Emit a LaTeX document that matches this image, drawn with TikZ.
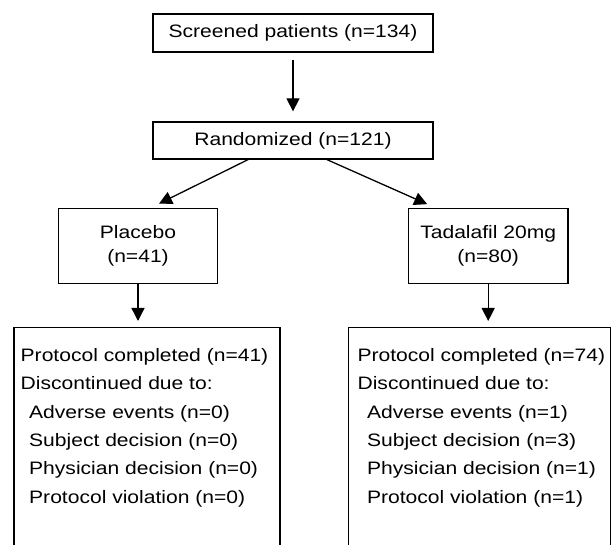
\documentclass[tikz,border=0pt]{standalone}
\usepackage{fontspec}
\setmainfont{Liberation Sans}[FakeStretch=1.17]
\usetikzlibrary{positioning,arrows.meta}

\begin{document}
\begin{tikzpicture}[x=1pt,y=-1pt,
  box/.style={draw, line width=1.3pt, inner sep=0pt, align=center, font=\fontsize{18}{23.5}\selectfont},
  listbox/.style={draw, line width=1.3pt, anchor=north west, minimum height=240pt},
  listtext/.style={anchor=north west, inner sep=0pt, align=left, font=\fontsize{18}{28.4}\selectfont},
  arr/.style={-{Triangle[length=13pt,width=13pt]}, line width=1.3pt}]
\clip (0,0) rectangle (616,545);
\node[box, minimum width=280pt, minimum height=38pt] (screened) at (293,33) {Screened patients (n=134)};
\node[box, minimum width=280pt, minimum height=37pt] (random) at (293,140.5) {Randomized (n=121)};
\node[box, minimum width=159pt, minimum height=75pt] (placebo) at (138,245.8) {Placebo\\(n=41)};
\node[box, minimum width=159.5pt, minimum height=75pt] (tada) at (488.2,245.8) {Tadalafil 20mg\\(n=80)};
\node[listbox, minimum width=266pt] (lbox) at (13.3,327) {};
\node[listbox, minimum width=262.5pt] (rbox) at (347.5,327) {};
\node[listtext] (ltext) at (20.5,348) {Protocol completed (n=41)\\Discontinued due to:\\\hspace{8.5pt}Adverse events (n=0)\\\hspace{8.5pt}Subject decision (n=0)\\\hspace{8.5pt}Physician decision (n=0)\\\hspace{8.5pt}Protocol violation (n=0)};
\node[listtext] (rtext) at (357.4,348) {Protocol completed (n=74)\\Discontinued due to:\\\hspace{9.5pt}Adverse events (n=1)\\\hspace{9.5pt}Subject decision (n=3)\\\hspace{9.5pt}Physician decision (n=1)\\\hspace{9.5pt}Protocol violation (n=1)};
\draw[arr, shorten <=7pt, shorten >=10pt] (screened) -- (random);
\draw[arr] ([xshift=-45pt]random.south) -- ([xshift=21pt,yshift=4pt]placebo.north);
\draw[arr] ([xshift=34pt]random.south) -- ([xshift=-61pt,yshift=3.5pt]tada.north);
\draw[arr, shorten >=6pt] (placebo.south) -- (placebo.south |- lbox.north);
\draw[arr, shorten >=6pt] (tada.south) -- (tada.south |- rbox.north);
\end{tikzpicture}
\end{document}
